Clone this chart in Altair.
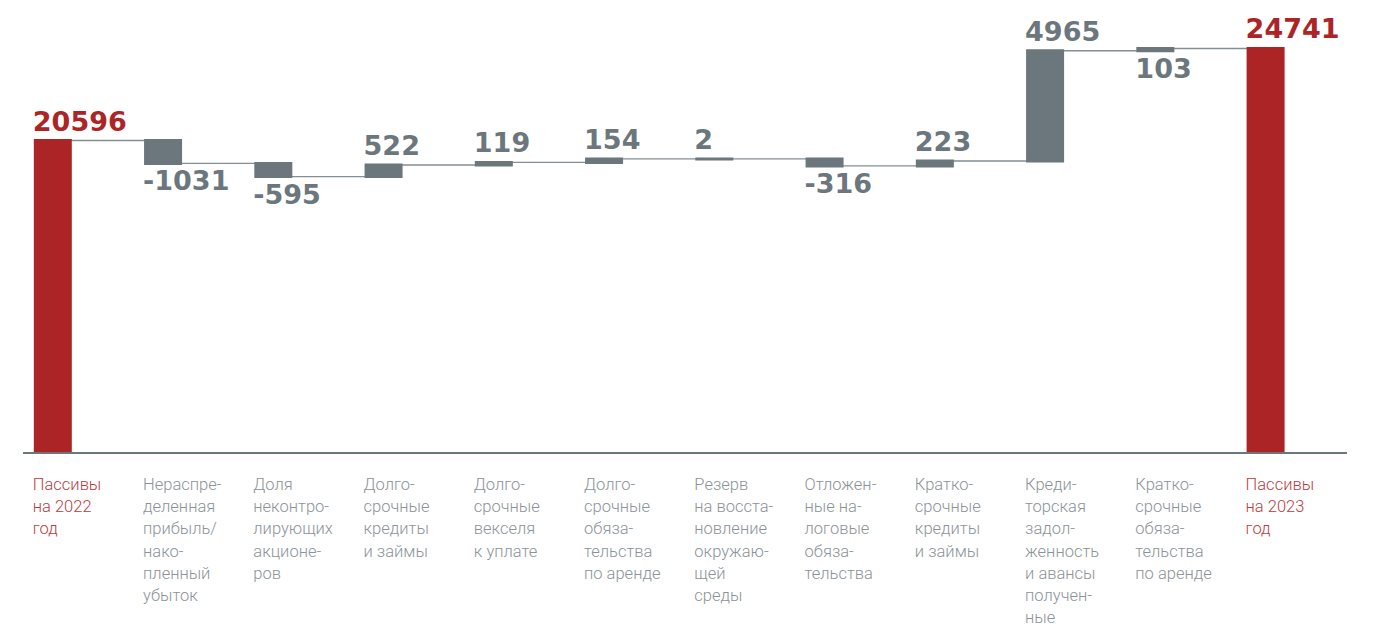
import altair as alt
import pandas as pd

categories = [
    "Пассивы\nна 2022\nгод",
    "Нераспре-\nделенная\nприбыль/\nнако-\nпленный\nубыток",
    "Доля\nнеконтро-\nлирующих\nакционе-\nров",
    "Долго-\nсрочные\nкредиты\nи займы",
    "Долго-\nсрочные\nвекселя\nк уплате",
    "Долго-\nсрочные\nобяза-\nтельства\nпо аренде",
    "Резерв\nна восста-\nновление\nокружаю-\nщей\nсреды",
    "Отложен-\nные на-\nлоговые\nобяза-\nтельства",
    "Кратко-\nсрочные\nкредиты\nи займы",
    "Креди-\nторская\nзадол-\nженность\nи авансы\nполучен-\nные",
    "Кратко-\nсрочные\nобяза-\nтельства\nпо аренде",
    "Пассивы\nна 2023\nгод",
]
values = [20596, -1031, -595, 522, 119, 154, 2, -316, 223, 4965, 103, 24741]
kinds = ["total", "delta", "delta", "delta", "delta", "delta", "delta",
         "delta", "delta", "delta", "delta", "total"]
label_side = ["top", "bottom", "bottom", "top", "top", "top", "top",
              "bottom", "top", "top", "bottom", "top"]

rows = []
level = 0
for i, (c, v, k, s) in enumerate(zip(categories, values, kinds, label_side)):
    if k == "total":
        start, end = 0, v
    else:
        start, end = level, level + v
    level = end
    lo, hi = min(start, end), max(start, end)
    rows.append(dict(i=i, i2=i + 1, cat=c, value=v, kind=k, side=s,
                     start=start, end=end, lo=lo, hi=hi,
                     label=str(v), ly=hi if s == "top" else lo,
                     last=(i == len(categories) - 1)))
df = pd.DataFrame(rows)

W, H = 1324, 440
RED, GRAY = "#ad2426", "#6b767d"
LRED, LGRAY = "#bb3c3e", "#8b9398"

xs = alt.Scale(domain=[-0.225, 11.693], nice=False, zero=False)
ys = alt.Scale(domain=[6520, 26340], nice=False, zero=False)
color_bar = alt.Color("kind:N", scale=alt.Scale(domain=["total", "delta"], range=[RED, GRAY]), legend=None)
color_lab = alt.Color("kind:N", scale=alt.Scale(domain=["total", "delta"], range=[LRED, LGRAY]), legend=None)

base = alt.Chart(df)

connectors = base.transform_filter("!datum.last").mark_rule(color="#858e94", strokeWidth=1.3).encode(
    x=alt.X("i:Q", scale=xs, axis=None),
    x2="i2:Q",
    y=alt.Y("end:Q", scale=ys, axis=None),
)

bars = base.mark_bar(width=35, clip=True, strokeWidth=3).encode(
    x=alt.X("i:Q", scale=xs, axis=None),
    y=alt.Y("start:Q", scale=ys, axis=None),
    y2="end:Q",
    color=color_bar,
    stroke=alt.Stroke("kind:N", scale=alt.Scale(domain=["total", "delta"], range=[RED, GRAY]), legend=None),
)

axis_line = alt.Chart(pd.DataFrame({"a": [0]})).mark_rule(color=GRAY, strokeWidth=2.2).encode(
    x=alt.value(0), x2=alt.value(W), y=alt.value(H)
)

vtop = base.transform_filter("datum.side == 'top'").mark_text(
    align="left", baseline="alphabetic", dx=-20, dy=-10,
    font="DejaVu Sans", fontWeight="bold", fontSize=27,
).encode(
    x=alt.X("i:Q", scale=xs, axis=None),
    y=alt.Y("ly:Q", scale=ys, axis=None),
    text="label:N",
    color=alt.Color("kind:N", scale=alt.Scale(domain=["total", "delta"], range=[RED, GRAY]), legend=None),
)

vbot = base.transform_filter("datum.side == 'bottom'").mark_text(
    align="left", baseline="top", dx=-20, dy=6,
    font="DejaVu Sans", fontWeight="bold", fontSize=27,
).encode(
    x=alt.X("i:Q", scale=xs, axis=None),
    y=alt.Y("ly:Q", scale=ys, axis=None),
    text="label:N",
    color=alt.Color("kind:N", scale=alt.Scale(domain=["total", "delta"], range=[RED, GRAY]), legend=None),
)

cat_labels = base.mark_text(
    align="left", baseline="alphabetic", dx=-20, lineBreak="\n", lineHeight=22.2,
    font="Roboto", fontWeight=300, fontSize=16.5,
).encode(
    x=alt.X("i:Q", scale=xs, axis=None),
    y=alt.value(H + 37),
    text="cat:N",
    color=color_lab,
)

chart = alt.layer(connectors, bars, axis_line, vtop, vbot, cat_labels).properties(
    width=W, height=H,
    autosize=alt.AutoSizeParams(type="none"),
    padding={"left": 15, "top": 5, "right": 18, "bottom": 172},
).configure_view(stroke=None).resolve_scale(color="independent")

chart.save("out.html", embed_options={"renderer": "svg", "actions": False})
